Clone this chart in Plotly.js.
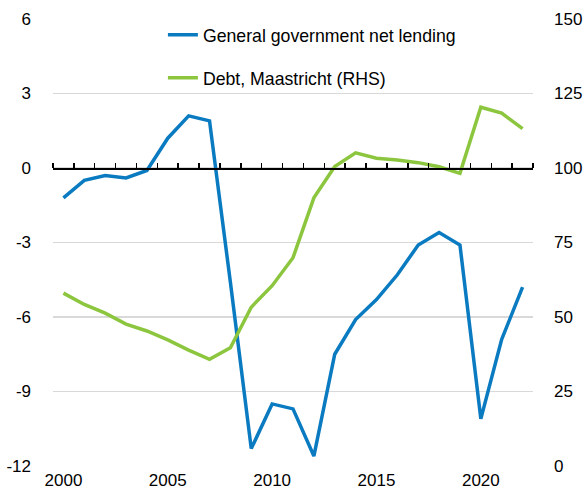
<!DOCTYPE html>
<html>
<head>
<meta charset="utf-8">
<script src="https://cdn.plot.ly/plotly-3.0.1.min.js"></script>
<style>html,body{margin:0;padding:0;background:#fff;}#chart{width:583px;height:494px;}</style>
</head>
<body>
<div id="chart"></div>
<script>
const years = [2000,2001,2002,2003,2004,2005,2006,2007,2008,2009,2010,2011,2012,2013,2014,2015,2016,2017,2018,2019,2020,2021,2022];
const netLending = [-1.2,-0.5,-0.3,-0.4,-0.1,1.2,2.1,1.9,-4.6,-11.3,-9.5,-9.7,-11.6,-7.5,-6.1,-5.3,-4.3,-3.1,-2.6,-3.1,-10.1,-6.9,-4.8];
const debt = [58.0,54.2,51.3,47.6,45.3,42.3,38.9,35.8,39.7,53.3,60.5,69.9,90.0,100.5,105.1,103.3,102.7,101.8,100.4,98.2,120.4,118.4,113.2];
const seriesNames = ["General government net lending","Debt, Maastricht (RHS)"];
const leftTicks = [6,3,0,-3,-6,-9,-12];
const rightTicks = [150,125,100,75,50,25,0];
const xTickLabels = [2000,2005,2010,2015,2020];
const yearBoundaries = years.map(y => y - 0.5).concat([years[years.length-1] + 0.5]);

const font = {family: "Liberation Sans, Arial, sans-serif", size: 17, color: "#000"};

const traces = [
  {x: years, y: netLending, name: seriesNames[0], type: "scatter", mode: "lines",
   line: {color: "#0b7bc1", width: 3.5}, xaxis: "x", yaxis: "y", legendgroup: "a"},
  {x: years, y: debt, name: seriesNames[1], type: "scatter", mode: "lines",
   line: {color: "#8cc63f", width: 3.5}, xaxis: "x2", yaxis: "y2", legendgroup: "b"}
];

const layout = {
  width: 583, height: 494,
  margin: {l: 53, r: 50, t: 19, b: 28},
  paper_bgcolor: "#fff", plot_bgcolor: "#fff",
  font: font,
  showlegend: true,
  legend: {x: 0.229, xanchor: "left", y: 1.005, yanchor: "top", bgcolor: "rgba(0,0,0,0)",
           font: {family: font.family, size: 17.7, color: "#000"}, tracegroupgap: 17, traceorder: "grouped"},
  xaxis: {range: [1999.5, 2022.5], tickvals: xTickLabels, ticktext: xTickLabels.map(String),
          ticks: "", showgrid: false, zeroline: false, showline: false, ticklabelstandoff: 2,
          tickfont: font, fixedrange: true},
  xaxis2: {range: [1999.5, 2022.5], overlaying: "x", anchor: "free", position: 2/3, side: "top",
           tickvals: yearBoundaries, ticks: "outside", ticklen: 5, tickwidth: 1.5, tickcolor: "#000",
           showticklabels: false, showgrid: false, zeroline: false, showline: true,
           linecolor: "#000", linewidth: 1.5},
  yaxis: {range: [-12, 6], tickvals: leftTicks, ticktext: leftTicks.map(String), ticks: "",
          showgrid: true, gridcolor: "#d9d9d9", gridwidth: 1.5, zeroline: false, showline: false,
          ticklabelstandoff: 21, tickfont: font},
  yaxis2: {range: [0, 150], tickvals: rightTicks, ticktext: rightTicks.map(String), ticks: "",
           overlaying: "y", side: "right", anchor: "x", showgrid: false, zeroline: false, showline: false,
           ticklabelstandoff: 20, tickfont: font}
};

Plotly.newPlot("chart", traces, layout, {displayModeBar: false, staticPlot: true});
</script>
</body>
</html>
